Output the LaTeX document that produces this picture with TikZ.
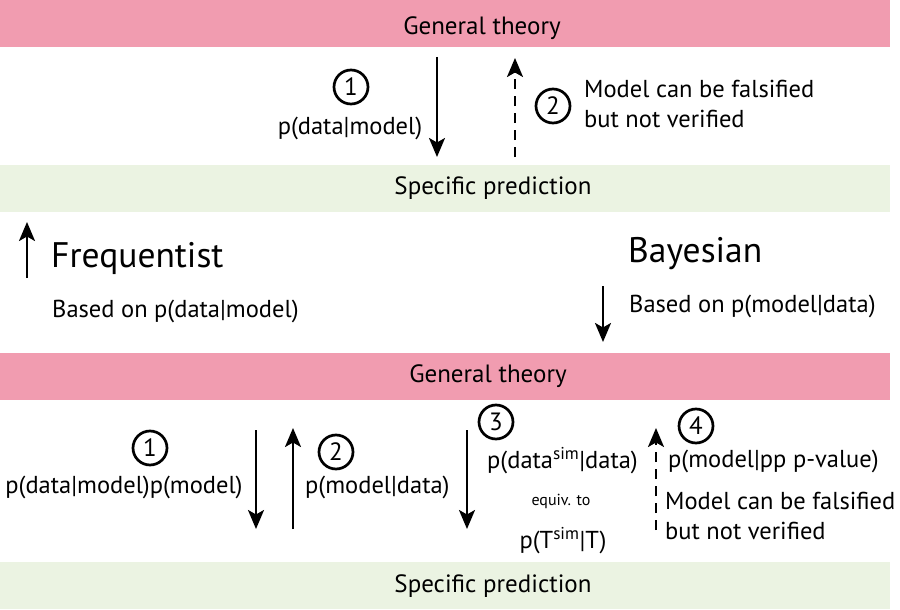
\documentclass[tikz,border=0pt]{standalone}
\usepackage{fontspec}
\setmainfont{PT Sans}
\usetikzlibrary{arrows.meta}
\definecolor{bandpink}{HTML}{F19CB0}
\definecolor{bandgreen}{HTML}{EBF3E2}
\tikzset{
  band/.style={draw=none,anchor=north west,minimum width=890pt,minimum height=47pt,inner sep=0pt},
  pinkband/.style={band,fill=bandpink},
  greenband/.style={band,fill=bandgreen},
  bandtext/.style={font=\fontsize{25}{30}\selectfont,inner sep=0pt},
  txt/.style={font=\fontsize{24.5}{29}\selectfont,inner sep=0pt},
  bigtxt/.style={font=\fontsize{35.5}{42}\selectfont,inner sep=0pt},
  smalltxt/.style={font=\fontsize{16}{19}\selectfont,inner sep=0pt},
  num/.style={circle,draw,line width=2.7pt,minimum size=34pt,inner sep=0pt,font=\fontsize{25}{29}\selectfont},
  arr/.style={line width=2.4pt,-{Stealth[length=19pt,width=16pt,inset=4.5pt]}},
  darr/.style={arr,dash pattern=on 10pt off 7pt},
}
\begin{document}
\begin{tikzpicture}[x=1pt,y=-1pt]
\useasboundingbox (0,0) rectangle (900,610);
% bands
\node[pinkband] (gt1) at (0,0) {};
\node[greenband] (sp1) at (0,165) {};
\node[pinkband] (gt2) at (0,353) {};
\node[greenband] (sp2) at (0,562) {};
\node[bandtext] (gt1t) at (482,28) {General theory};
\node[bandtext] (sp1t) at (493,188) {Specific prediction};
\node[bandtext] (gt2t) at (488,376) {General theory};
\node[bandtext] (sp2t) at (493,586) {Specific prediction};
% top section
\node[num] (c1a) at (351,87) {1};
\node[txt] (pdm) at (350,128) {p(data|model)};
\coordinate (a1s) at (437,57);
\coordinate (a1e) at (437,157);
\draw[arr] (a1s) -- (a1e);
\coordinate (a2s) at (515,157);
\coordinate (a2e) at (515,58);
\draw[darr] (a2s) -- (a2e);
\node[num] (c2a) at (553,106) {2};
\node[txt,anchor=west] (mf1) at (584,89) {Model can be falsified};
\node[txt,anchor=west] (nv1) at (584,119) {but not verified};
% middle
\coordinate (fs) at (27,278);
\coordinate (fe) at (27,222);
\draw[arr] (fs) -- (fe);
\node[bigtxt,anchor=west] (freq) at (51,258) {Frequentist};
\node[txt,anchor=west] (bfreq) at (52,311) {Based on p(data|model)};
\node[bigtxt,anchor=west] (bayes) at (628,254) {Bayesian};
\node[txt,anchor=west] (bbayes) at (629,306) {Based on p(model|data)};
\coordinate (bs) at (603,286);
\coordinate (be) at (603,342);
\draw[arr] (bs) -- (be);
% bottom section
\node[num] (c1b) at (150,448) {1};
\node[txt] (pdmpm) at (124,487) {p(data|model)p(model)};
\coordinate (b1s) at (256,430);
\coordinate (b1e) at (256,529);
\draw[arr] (b1s) -- (b1e);
\coordinate (b2s) at (293,529);
\coordinate (b2e) at (293,428);
\draw[arr] (b2s) -- (b2e);
\node[num] (c2b) at (336,452) {2};
\node[txt,anchor=west] (pmd) at (305,487) {p(model|data)};
\coordinate (b3s) at (467,430);
\coordinate (b3e) at (467,529);
\draw[arr] (b3s) -- (b3e);
\node[num] (c3b) at (496,422) {3};
\node[txt,anchor=west] (pds) at (487,461) {p(data\textsuperscript{sim}|data)};
\node[smalltxt] (eq) at (561,501) {equiv. to};
\node[txt] (pts) at (563,541) {p(T\textsuperscript{sim}|T)};
\coordinate (b4s) at (656,530);
\coordinate (b4e) at (656,428);
\draw[darr] (b4s) -- (b4e);
\node[num] (c4b) at (696,426) {4};
\node[txt,anchor=west] (pmpp) at (668,461) {p(model|pp p-value)};
\node[txt,anchor=west] (mf2) at (665,501) {Model can be falsified};
\node[txt,anchor=west] (nv2) at (665,531) {but not verified};
\end{tikzpicture}
\end{document}
